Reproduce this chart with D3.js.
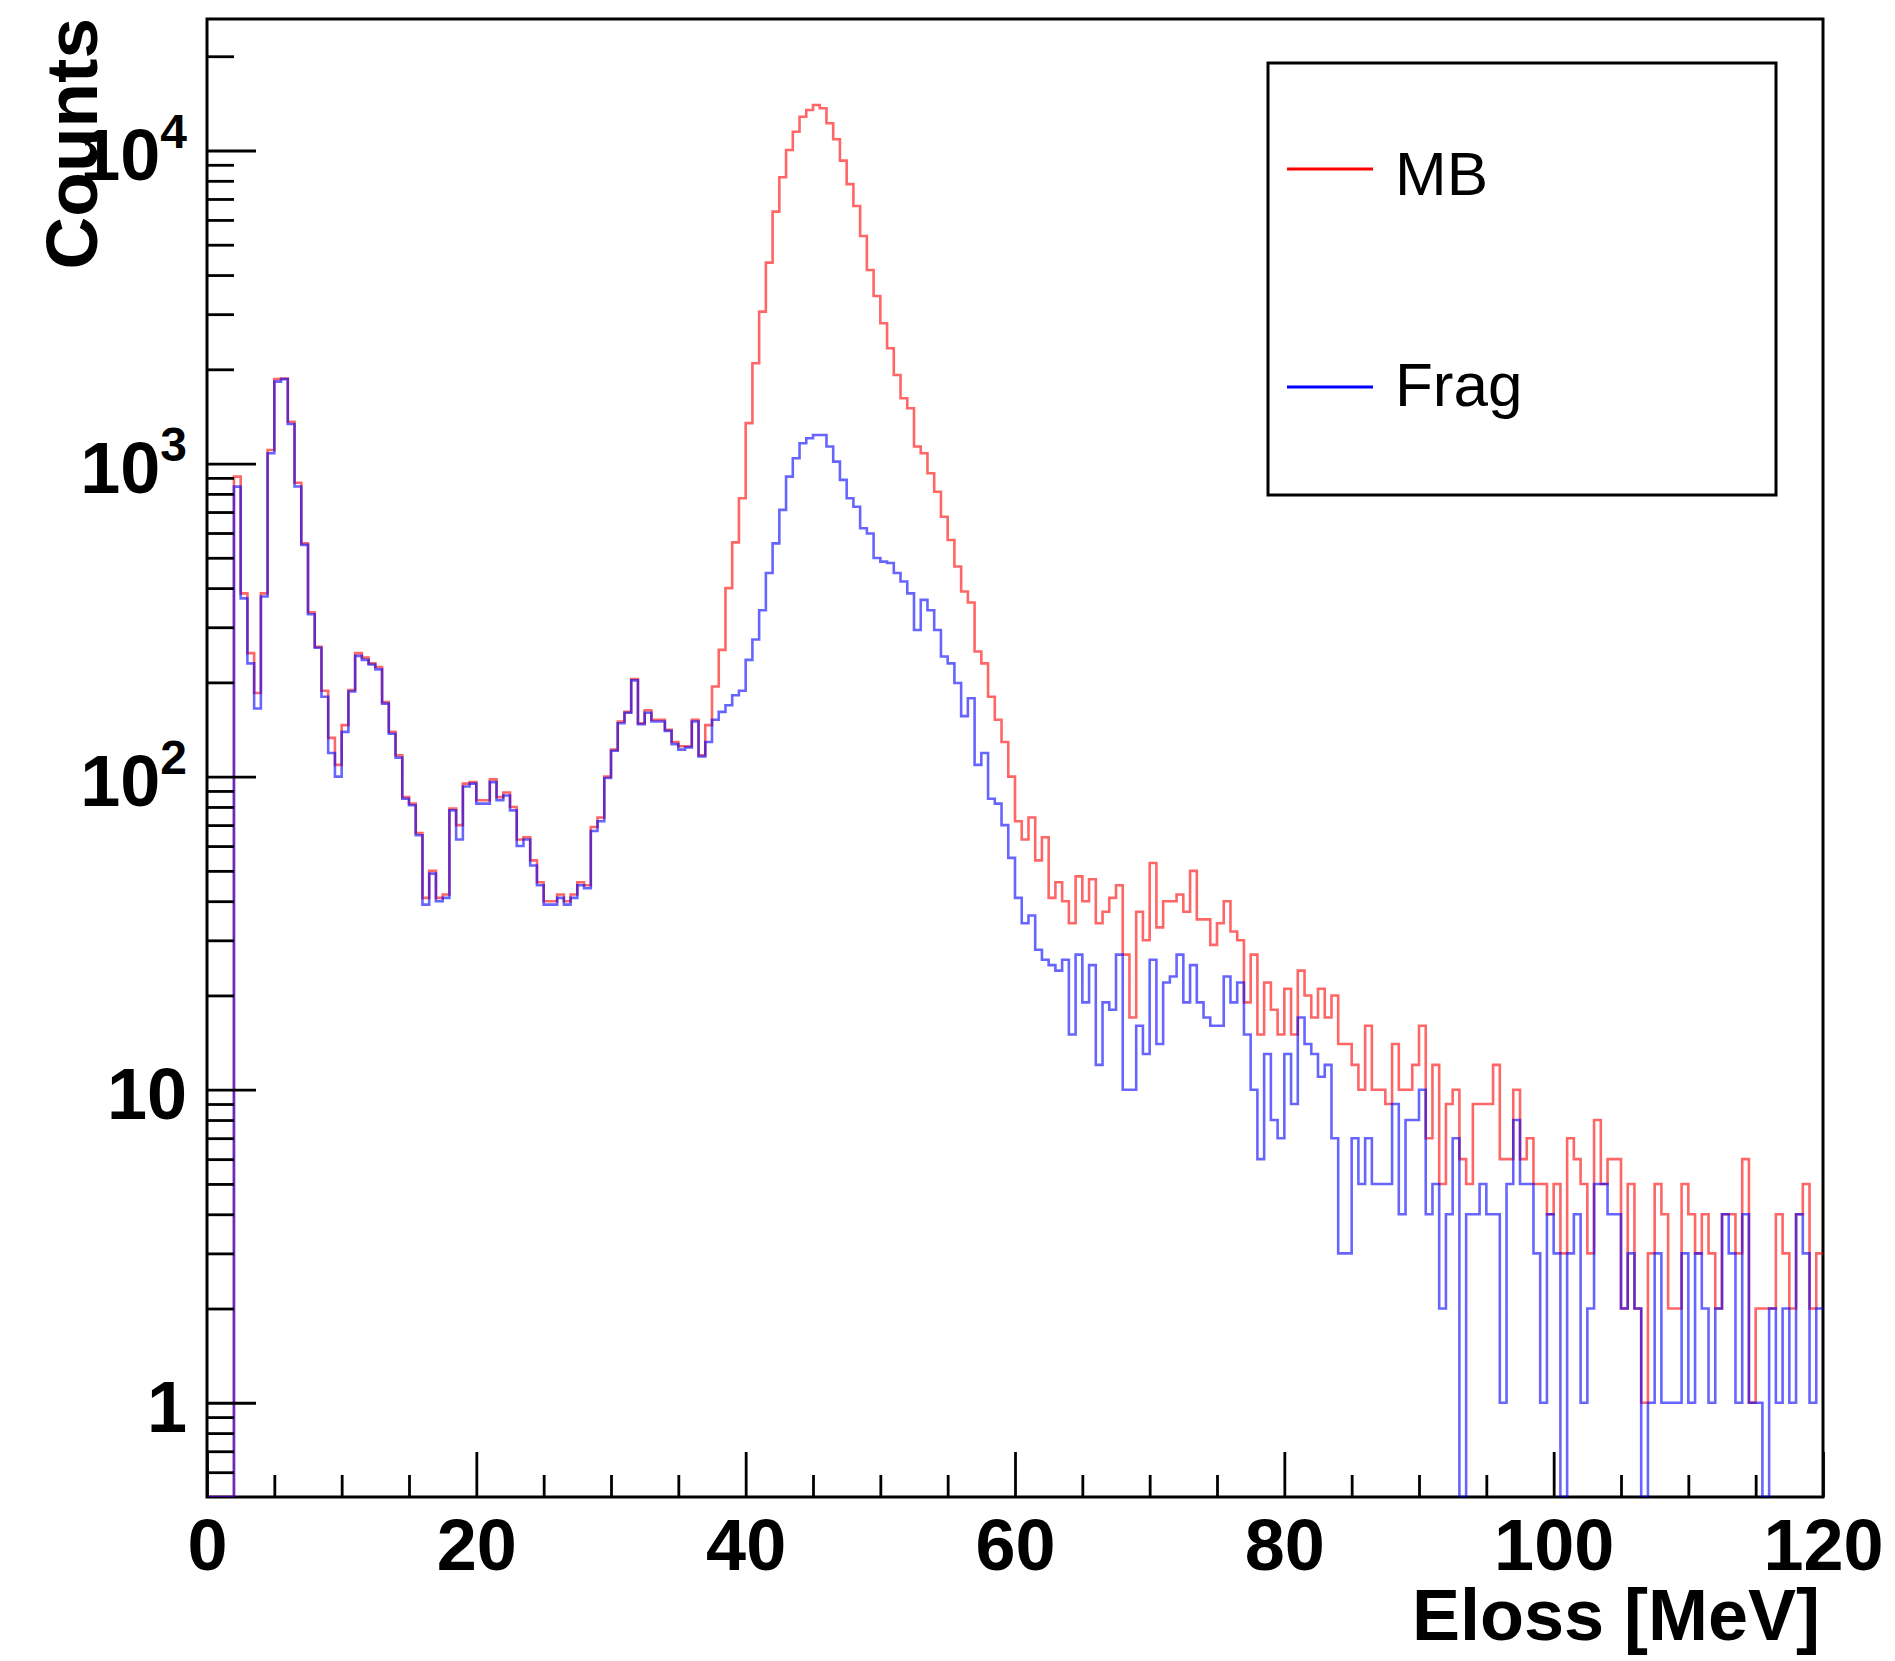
<!DOCTYPE html>
<html><head><meta charset="utf-8">
<script src="https://cdn.jsdelivr.net/npm/d3@7"></script>
<style>body{margin:0;background:#fff;} svg{display:block;}</style>
</head><body>
<svg id="c" width="1895" height="1661"></svg>
<script>
// ---- data (histogram, 240 bins of 0.5 MeV from 0 to 120 MeV) ----
const binWidth = 0.5;
const xRange = [0, 120];
const mbCounts = [
0,0,0,0,908,385,248,185,385,1105,
1860,1870,1360,868,556,335,260,188,133,109,
146,189,248,240,230,224,173,139,117,86,
82,66,41,50,41,42,79,70,95,96,
84,84,98,86,89,80,63,64,54,46,
40,40,42,40,42,46,45,69,74,100,
122,150,161,205,148,163,152,152,141,129,
125,125,152,117,146,194,254,400,560,775,
1346,2091,3056,4383,6378,8212,10040,11480,12820,13470,
13970,13640,12220,10860,9280,7810,6650,5333,4153,3430,
2805,2334,1918,1617,1502,1133,1079,931,813,676,
570,469,390,360,251,230,180,152,129,100,
72,63,74,54,64,41,46,40,34,48,
40,47,34,37,41,45,27,17,37,30,
53,33,40,40,42,37,50,35,35,29,
34,40,32,30,19,27,15,22,18,15,
21,15,24,20,17,21,17,20,14,14,
12,10,16,10,10,9,14,10,10,12,
16,7,12,5,9,10,6,5,9,9,
9,12,6,6,10,6,7,5,5,4,
5,3,7,6,5,3,8,5,6,6,
2,5,2,1,3,5,4,2,2,5,
4,3,4,3,2,4,4,3,6,1,
2,2,2,4,3,2,4,5,2,3];
const fragCounts = [
0,0,0,0,844,371,230,165,376,1079,
1827,1860,1337,845,550,330,258,180,119,100,
139,187,243,236,228,220,171,137,115,85,
81,65,39,49,40,41,78,63,93,95,
82,82,96,84,87,78,60,63,52,45,
39,39,41,39,41,45,44,67,72,99,
121,148,160,203,147,160,150,150,140,127,
122,124,150,116,129,152,161,169,182,188,
236,274,340,447,556,711,908,1040,1161,1205,
1234,1234,1133,1014,887,775,728,621,598,499,
486,481,447,420,385,294,367,340,294,242,
230,199,156,178,109,119,85,82,70,55,
41,34,36,28,26,25,24,26,15,27,
19,25,12,19,18,27,10,10,16,13,
26,14,22,23,27,19,25,19,17,16,
16,23,19,22,15,10,6,13,8,7,
13,9,17,14,13,11,12,7,3,3,
7,5,7,5,5,5,9,4,8,8,
10,4,5,2,4,7,0,4,4,5,
4,4,1,5,8,5,5,3,1,4,
3,0,3,4,1,2,5,5,4,4,
2,3,2,0,1,3,1,1,1,3,
1,3,2,1,2,4,3,1,4,1,
1,0,2,1,2,1,4,3,1,2];
const seriesNames = ["MB", "Frag"];
const seriesColors = ["#ff0000", "#0000ff"];
const xMajorTicks = [0,20,40,60,80,100,120];
const xMinorTicks = [5,10,15,25,30,35,45,50,55,65,70,75,85,90,95,105,110,115];
const yMajorTicks = [1,10,100,1000,10000];
const yMajorBase = ["1","10","10","10","10"];
const yMajorExp  = ["","","2","3","4"];
const yMinorTicks = [0.6,0.7,0.8,0.9,2,3,4,5,6,7,8,9,20,30,40,50,60,70,80,90,
  200,300,400,500,600,700,800,900,2000,3000,4000,5000,6000,7000,8000,9000,20000];
const yDomain = [0.5, 26300];
const xTitle = "Eloss [MeV]";
const yTitle = "Counts";

// ---- layout ----
const L = 207, R = 1823, T = 19, B = 1497;
const FONT = "'Liberation Sans', Arial, Helvetica, sans-serif";
const svg = d3.select("#c");
svg.append("rect").attr("width",1895).attr("height",1661).attr("fill","#fff");

const x = d3.scaleLinear().domain(xRange).range([L, R]);
const y = d3.scaleLog().domain(yDomain).range([B, T]);

svg.append("defs").append("clipPath").attr("id","clip")
  .append("rect").attr("x",L).attr("y",T).attr("width",R-L).attr("height",B-T);

// frame
svg.append("rect").attr("x",L).attr("y",T).attr("width",R-L).attr("height",B-T)
  .attr("fill","none").attr("stroke","#000").attr("stroke-width",3);

// histograms
function histPath(counts){
  let p = `M${x(0)},${B}`;
  counts.forEach((c,i)=>{
    const yy = c > 0 ? y(c) : B;
    p += `V${yy}H${x((i+1)*binWidth)}`;
  });
  return p;
}
const hg = svg.append("g").attr("clip-path","url(#clip)");
[mbCounts, fragCounts].forEach((cts,i)=>{
  hg.append("path").attr("d", histPath(cts)).attr("fill","none")
    .attr("stroke", seriesColors[i]).attr("stroke-opacity",0.6)
    .attr("stroke-width",2.6).attr("stroke-linejoin","miter");
});

// axes
function styleAxis(g){
  g.select(".domain").remove();
  g.selectAll(".tick line").attr("stroke","#000").attr("stroke-width",2.8);
  g.selectAll("text").attr("font-family",FONT).attr("font-weight","bold").attr("font-size",72).attr("fill","#000");
}
const gxMin = svg.append("g").attr("transform",`translate(0,${B})`)
  .call(d3.axisBottom(x).tickValues(xMinorTicks).tickSizeInner(-22).tickSizeOuter(0).tickFormat(""));
styleAxis(gxMin);
const gxMaj = svg.append("g").attr("transform",`translate(0,${B})`)
  .call(d3.axisBottom(x).tickValues(xMajorTicks).tickSizeInner(-45).tickSizeOuter(0).tickPadding(22).tickFormat(d3.format("d")));
styleAxis(gxMaj);

const gyMin = svg.append("g").attr("transform",`translate(${L},0)`)
  .call(d3.axisLeft(y).tickValues(yMinorTicks).tickSizeInner(-27).tickSizeOuter(0).tickFormat(""));
styleAxis(gyMin);
const gyMaj = svg.append("g").attr("transform",`translate(${L},0)`)
  .call(d3.axisLeft(y).tickValues(yMajorTicks).tickSizeInner(-49).tickSizeOuter(0).tickPadding(20));
styleAxis(gyMaj);
gyMaj.selectAll(".tick text").each(function(d,i){
  const t = d3.select(this);
  t.text("").attr("dy","0.4em").attr("text-anchor","end");
  t.append("tspan").text(yMajorBase[i]);
  if (yMajorExp[i]) t.append("tspan").attr("dy",-32).attr("font-size",48).text(yMajorExp[i]);
});

// titles
svg.append("text").attr("x",1820).attr("y",1640).attr("text-anchor","end")
  .attr("font-family",FONT).attr("font-weight","bold").attr("font-size",72).text(xTitle);
svg.append("text").attr("transform","translate(97,18) rotate(-90)").attr("text-anchor","end")
  .attr("font-family",FONT).attr("font-weight","bold").attr("font-size",73).text(yTitle);

// legend
const lg = svg.append("g");
lg.append("rect").attr("x",1268).attr("y",63).attr("width",508).attr("height",432)
  .attr("fill","#fff").attr("stroke","#000").attr("stroke-width",3);
const legY = [169, 387];
const legBase = [195, 406];
seriesNames.forEach((n,i)=>{
  lg.append("line").attr("x1",1287).attr("x2",1373).attr("y1",legY[i]).attr("y2",legY[i])
    .attr("stroke",seriesColors[i]).attr("stroke-width",3);
  lg.append("text").attr("x",1395).attr("y",legBase[i]).attr("font-family",FONT)
    .attr("font-size",62).attr("fill","#000").text(n);
});
</script>
</body></html>
